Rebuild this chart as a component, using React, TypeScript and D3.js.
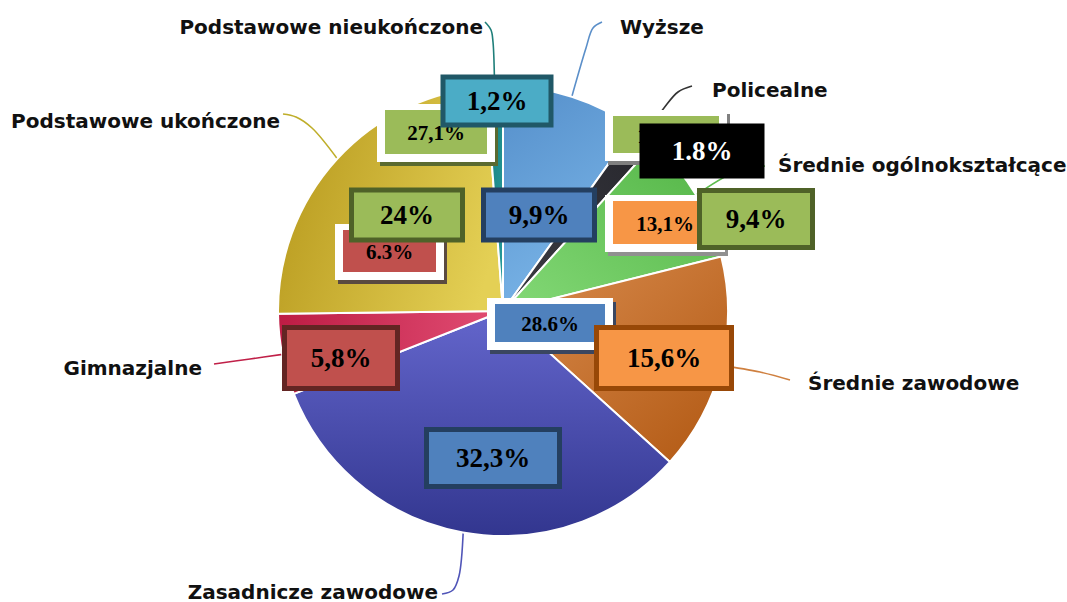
import { useEffect, useRef } from 'react';
import * as d3 from 'd3';

// slices clockwise from 12 o'clock
const categories = [
    'Wyższe',
    'Policealne',
    'Średnie ogólnokształcące',
    'Średnie zawodowe',
    'Zasadnicze zawodowe',
    'Gimnazjalne',
    'Podstawowe ukończone',
    'Podstawowe nieukończone',
];
const values = [9.9, 1.8, 9.4, 15.6, 32.3, 5.8, 24, 1.2];
const valueLabels = ['9,9%', '1.8%', '9,4%', '15,6%', '32,3%', '5,8%', '24%', '1,2%'];
// leftover labels that sit on the chart without a slice
const strayLabels = ['27,1%', '6.3%', '13,1%', '28.6%', '14,4%'];

const WIDTH = 1067;
const HEIGHT = 602;
const CX = 503;
const CY = 311;
const R = 225;

interface SliceStyle {
    from: string;
    to: string;
    dir: [number, number, number, number];
    line: string;
    box: string;
    border: string;
    text: string;
}

const sliceStyles: SliceStyle[] = [
    { from: '#5791cc', to: '#7db8ea', dir: [0.2, 0, 0.6, 1], line: '#5b8fc9', box: '#4f81bd', border: '#243f60', text: '#000' },
    { from: '#26262c', to: '#3c3c44', dir: [1, 0, 0, 1], line: '#333', box: '#000', border: '#000', text: '#fff' },
    { from: '#52b445', to: '#84d977', dir: [1, 0, 0, 1], line: '#5cbc4c', box: '#9bbb59', border: '#4f6228', text: '#000' },
    { from: '#da8d50', to: '#b15812', dir: [0, 0, 1, 1], line: '#cf8040', box: '#f79646', border: '#984807', text: '#000' },
    { from: '#6466cc', to: '#32368f', dir: [0.5, 0, 0.5, 1], line: '#5055b8', box: '#4f81bd', border: '#243f60', text: '#000' },
    { from: '#bd1c44', to: '#e24e74', dir: [0, 0.5, 1, 0.5], line: '#c02048', box: '#c0504d', border: '#632523', text: '#000' },
    { from: '#b89a1e', to: '#e4d055', dir: [0, 0.3, 1, 0.6], line: '#bfae2a', box: '#9bbb59', border: '#4f6228', text: '#000' },
    { from: '#167c7c', to: '#279c9c', dir: [0, 0, 1, 1], line: '#1f7f7a', box: '#4bacc6', border: '#205867', text: '#000' },
];

// value boxes: offset of box centre from pie centre, width, height
const boxLayout: [number, number, number, number][] = [
    [36, -96, 116, 55],
    [199, -160, 125, 55],
    [253, -92, 118, 62],
    [161, 47, 140, 66],
    [-10, 147, 138, 62],
    [-162, 47, 118, 66],
    [-96, -96, 116, 55],
    [-6, -210, 113, 53],
];

// category labels: text anchor point and bend points of the leader line
const labelLayout: { x: number; y: number; anchor: string; bends: [number, number][] }[] = [
    { x: 620, y: 34, anchor: 'start', bends: [[586, 48], [593, 28], [602, 22]] },
    { x: 712, y: 97, anchor: 'start', bends: [[664, 108], [678, 92], [692, 86]] },
    { x: 778, y: 172, anchor: 'start', bends: [[735, 172], [765, 166]] },
    { x: 808, y: 390, anchor: 'start', bends: [[760, 372], [790, 380]] },
    { x: 438, y: 599, anchor: 'end', bends: [[459, 576], [453, 590], [442, 594]] },
    { x: 202, y: 375, anchor: 'end', bends: [[250, 359], [214, 364]] },
    { x: 280, y: 128, anchor: 'end', bends: [[312, 128], [296, 117], [283, 114]] },
    { x: 483, y: 34, anchor: 'end', bends: [[493, 42], [491, 30], [485, 22]] },
];

// stray boxes: white frame x, y, w, h, inner fill, shadow colour
const strayLayout: [number, number, number, number, string, string][] = [
    [377, 104, 118, 58, '#9bbb59', '#5a6a30'],
    [335, 224, 109, 56, '#c0504d', '#5a4a40'],
    [605, 195, 120, 57, '#f79646', '#909090'],
    [487, 298, 126, 52, '#4f81bd', '#3a4660'],
    [605, 110, 122, 51, '#9bbb59', '#808080'],
];

export default function App() {
    const svgRef = useRef<SVGSVGElement>(null);

    useEffect(() => {
        if (!svgRef.current) return;
        const svg = d3.select(svgRef.current);
        svg.selectAll('*').remove();

        const data = categories.map((c, i) => ({ name: c, value: values[i], i }));
        const pie = d3
            .pie<{ name: string; value: number; i: number }>()
            .sort(null)
            .value((d) => d.value);
        const arcs = pie(data);

        const arc = d3.arc<d3.PieArcDatum<any>>().innerRadius(0).outerRadius(R);
        const edge = d3.arc<d3.PieArcDatum<any>>().innerRadius(R - 2).outerRadius(R - 2);

        const defs = svg.append('defs');
        sliceStyles.forEach((s, i) => {
            const g = defs
                .append('linearGradient')
                .attr('id', `slice${i}`)
                .attr('x1', s.dir[0])
                .attr('y1', s.dir[1])
                .attr('x2', s.dir[2])
                .attr('y2', s.dir[3]);
            g.append('stop').attr('offset', '0%').attr('stop-color', s.from);
            g.append('stop').attr('offset', '100%').attr('stop-color', s.to);
        });

        const font = "'DejaVu Sans', Verdana, sans-serif";
        const serif = "'Liberation Serif', 'Times New Roman', serif";

        // leader lines + category labels
        const leader = d3
            .line<[number, number]>()
            .curve(d3.curveCatmullRom.alpha(0.5));
        arcs.forEach((a, i) => {
            const [ex, ey] = edge.centroid(a);
            const lay = labelLayout[i];
            const pts: [number, number][] = [[CX + ex, CY + ey], ...lay.bends];
            svg.append('path')
                .attr('d', leader(pts))
                .attr('fill', 'none')
                .attr('stroke', sliceStyles[i].line)
                .attr('stroke-width', 1.6);
            svg.append('text')
                .attr('x', lay.x)
                .attr('y', lay.y)
                .attr('text-anchor', lay.anchor)
                .attr('font-family', font)
                .attr('font-weight', 'bold')
                .attr('font-size', 20)
                .attr('fill', '#111')
                .text(a.data.name);
        });

        // pie
        const g = svg.append('g').attr('transform', `translate(${CX},${CY})`);
        g.selectAll('path.slice')
            .data(arcs)
            .enter()
            .append('path')
            .attr('class', 'slice')
            .attr('d', arc)
            .attr('fill', (d) => `url(#slice${d.index})`)
            .attr('stroke', '#fff')
            .attr('stroke-width', 2)
            .attr('stroke-linejoin', 'round');

        // stray labels (under the real ones)
        strayLabels.forEach((t, i) => {
            const [x, y, w, h, fill, shadow] = strayLayout[i];
            svg.append('rect')
                .attr('x', x + 3)
                .attr('y', y + 4)
                .attr('width', w)
                .attr('height', h)
                .attr('fill', shadow);
            svg.append('rect')
                .attr('x', x)
                .attr('y', y)
                .attr('width', w)
                .attr('height', h)
                .attr('fill', '#fff');
            svg.append('rect')
                .attr('x', x + 8)
                .attr('y', y + 6)
                .attr('width', w - 16)
                .attr('height', h - 14)
                .attr('fill', fill);
            svg.append('text')
                .attr('x', x + w / 2)
                .attr('y', y + 6 + (h - 14) / 2 + 8)
                .attr('text-anchor', 'middle')
                .attr('font-family', serif)
                .attr('font-weight', 'bold')
                .attr('font-size', 21)
                .attr('fill', '#000')
                .text(t);
        });

        // value boxes
        arcs.forEach((a, i) => {
            const [dx, dy, w, h] = boxLayout[i];
            const s = sliceStyles[i];
            const bx = CX + dx - w / 2;
            const by = CY + dy - h / 2;
            svg.append('rect')
                .attr('x', bx + 2.5)
                .attr('y', by + 2.5)
                .attr('width', w - 5)
                .attr('height', h - 5)
                .attr('fill', s.box)
                .attr('stroke', s.border)
                .attr('stroke-width', 5);
            svg.append('text')
                .attr('x', CX + dx)
                .attr('y', CY + dy + 9)
                .attr('text-anchor', 'middle')
                .attr('font-family', serif)
                .attr('font-weight', 'bold')
                .attr('font-size', 27)
                .attr('fill', s.text)
                .text(valueLabels[i]);
        });
    }, []);

    return (
        <div style={{ position: 'absolute', left: 0, top: 0, background: '#fff' }}>
            <svg ref={svgRef} width={WIDTH} height={HEIGHT} />
        </div>
    );
}
